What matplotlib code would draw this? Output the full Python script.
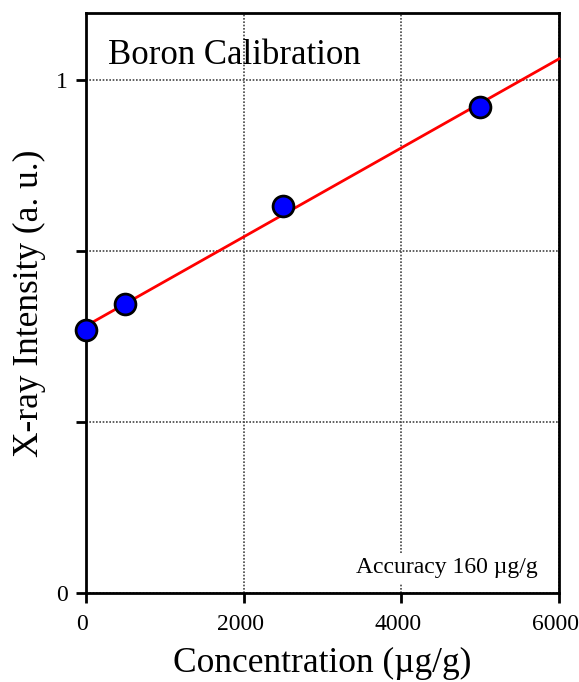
import numpy as np
import matplotlib
matplotlib.use("Agg")
import matplotlib.pyplot as plt
import matplotlib.transforms as mtransforms

# boron standards
conc = [0, 500, 2500, 5000]
intensity = [0.513, 0.563, 0.753, 0.946]

x_ticks = [0, 2000, 4000, 6000]
y_ticks = [0, 1 / 3, 2 / 3, 1]
y_tick_labels = ["0", "", "", "1"]

plt.rcParams['font.family'] = ['Liberation Serif', 'DejaVu Serif']

fig = plt.figure(figsize=(5.79, 6.82), dpi=100)
ax = fig.add_axes([0.1485, 0.1305, 0.817, 0.8505])

slope, icpt = np.polyfit(conc, intensity, 1)
fit_x = np.array([0, 6000])
ax.plot(fit_x, slope * fit_x + icpt, color='red', lw=2, zorder=3, clip_on=False)
ax.plot(conc, intensity, 'o', ms=15, mfc='blue', mec='black', mew=2,
        zorder=4, clip_on=False)

ax.set_xlim(0, 6000)
ax.set_ylim(0, 1.13)
ax.set_xticks(x_ticks)
ax.set_yticks(y_ticks)
ax.set_yticklabels(y_tick_labels)
ax.tick_params(direction='out', length=7, width=2, labelsize=17)
ax.tick_params(axis='x', pad=8)
ax.tick_params(axis='y', pad=6)
for s in ax.spines.values():
    s.set_linewidth(2)

# labels sit a little left of their ticks in the original
shift = mtransforms.ScaledTranslation(-0.035, 0, fig.dpi_scale_trans)
for lbl in ax.get_xticklabels():
    lbl.set_transform(lbl.get_transform() + shift)

ax.grid(True, linestyle=(0, (1, 1)), color='#444444', lw=1.2, zorder=1)
ax.set_axisbelow(True)

ax.set_xlabel("Concentration (µg/g)", fontsize=25.5, labelpad=9)
ax.set_ylabel("X-ray Intensity (a. u.)", fontsize=25.5, labelpad=7)

ax.text(0.047, 0.955, "Boron Calibration", transform=ax.transAxes,
        fontsize=25, va='top', ha='left')
ax.text(0.955, 0.025, "Accuracy 160 µg/g", transform=ax.transAxes,
        fontsize=17, va='bottom', ha='right', zorder=5,
        bbox=dict(facecolor='white', edgecolor='none', pad=3))

fig.savefig("out.png", dpi=100)
